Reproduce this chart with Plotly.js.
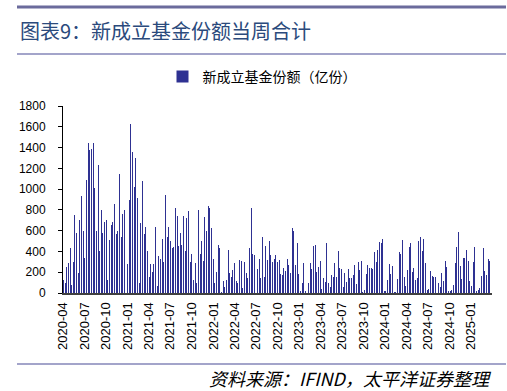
<!DOCTYPE html>
<html>
<head>
<meta charset="utf-8">
<script src="https://cdn.plot.ly/plotly-3.0.1.min.js"></script>
<style>html,body{margin:0;padding:0;background:#fff;}#chart{width:507px;height:391px;}</style>
</head>
<body>
<div id="chart"></div>
<script>
// Weekly totals of newly established fund shares (亿份), first week ending 2020-04-03
const firstWeek = '2020-04-03';
const seriesName = '新成立基金份额（亿份）';
const values2020_2021 = [125,100,253,290,430,80,300,750,580,190,700,930,600,340,1088,1440,1380,1390,1440,1010,600,1230,400,800,580,680,700,125,510,655,680,860,570,600,1150,540,760,800,600,280,900,1630,1360];
const values2021_2022 = [1018,1300,910,100,670,1080,570,640,400,155,280,200,275,640,70,355,330,520,300,940,540,640,500,430,440,820,740,450,580,460,740,400,720,790,300,380,125,290,100,800,380,500,310,730];
const values2022_2023 = [600,840,815,630,325,95,200,460,435,10,115,55,125,415,190,150,225,290,115,100,315,305,45,295,190,145,430,820,380,370,600,230,330,145,540,150,455,315,497,370,300,330,370,300,315];
const values2023_2024a = [180,175,240,210,325,270,195,630,600,270,480,180,20,100,285,20,35,100,290,235,450,460,200,250,310,35,145,105,480,95,60,170,155,285,150,400,240,230,60,190,105,230,140,140];
const values2024b = [170,270,85,300,220,310,10,30,183,270,245,240,230,390,300,410,490,480,520,15,15,125,280,183,260,10,10,130,395,375,510,150,65,220,440,480,200,240,125,145,500,540,405,520];
const values2024_2025 = [290,30,35,210,165,150,150,170,100,55,190,115,310,250,15,20,30,75,285,440,590,260,130,335,340,410,310,115,65,300,440,20,30,45,165,430,210,175,325,305];

const values = [].concat(values2020_2021, values2021_2022, values2022_2023, values2023_2024a, values2024b, values2024_2025);
const dates = [];
const d0 = new Date(firstWeek + 'T00:00:00Z');
for (let i = 0; i < values.length; i++) {
  const d = new Date(d0.getTime() + i * 7 * 86400000);
  dates.push(d.toISOString().slice(0, 10));
}

const L = 63, R = 492, T = 106, B = 293;
const px = x => (x - L) / (R - L);
const py = y => (B - y) / (B - T);

const trace = {
  type: 'bar', x: dates, y: values, name: seriesName,
  marker: {color: '#2E3192', line: {width: 0}},
  width: 7 * 86400000 * 0.6,
  showlegend: true
};

const layout = {
  width: 507, height: 391,
  margin: {l: L, r: 507 - R, t: T, b: 391 - B, pad: 0},
  paper_bgcolor: '#fff', plot_bgcolor: '#fff',
  font: {family: 'Liberation Sans, Arial, sans-serif', color: '#000'},
  bargap: 0,
  xaxis: {
    type: 'date', range: ['2020-04-01', '2025-03-31'],
    tick0: '2020-04-01', dtick: 'M3', tickformat: '%Y-%m',
    tickangle: -90, tickfont: {size: 13, color: '#000'},
    showgrid: false, zeroline: false,
    showline: true, linecolor: '#404040', linewidth: 2,
    ticks: '', ticklabelstandoff: 2
  },
  yaxis: {
    range: [0, 1800], dtick: 200, tick0: 0,
    tickfont: {size: 12, color: '#000'},
    showgrid: false, zeroline: false,
    showline: true, linecolor: '#000', linewidth: 1,
    ticks: 'outside', ticklen: 4, tickcolor: '#000', ticklabelstandoff: 10
  },
  legend: {
    orientation: 'h', x: px(262), xanchor: 'center', y: py(77), yanchor: 'middle',
    font: {family: 'Noto Sans CJK SC', size: 14, color: '#000'},
    itemwidth: 30, bgcolor: 'rgba(0,0,0,0)'
  },
  shapes: [
    {type: 'line', xref: 'paper', yref: 'paper', x0: px(17), x1: px(506), y0: py(7), y1: py(7), line: {color: '#6B6B9C', width: 3}},
    {type: 'line', xref: 'paper', yref: 'paper', x0: px(17), x1: px(506), y0: py(54), y1: py(54), line: {color: '#8486B8', width: 1.5}},
    {type: 'line', xref: 'paper', yref: 'paper', x0: px(17), x1: px(506), y0: py(364), y1: py(364), line: {color: '#8486B8', width: 1.5}}
  ],
  annotations: [
    {xref: 'paper', yref: 'paper', x: px(18), y: py(31), xanchor: 'left', yanchor: 'middle', showarrow: false,
     text: '图表9：新成立基金份额当周合计', font: {family: 'Noto Sans CJK SC', size: 20, color: '#2B4A7C'}},
    {xref: 'paper', yref: 'paper', x: px(494), y: py(378), xanchor: 'right', yanchor: 'middle', showarrow: false,
     text: '<i>资料来源：IFIND，太平洋证券整理</i>', font: {family: 'Noto Sans CJK SC', size: 18, color: '#000'}}
  ]
};

Plotly.newPlot('chart', [trace], layout, {displayModeBar: false, staticPlot: true});
</script>
</body>
</html>
